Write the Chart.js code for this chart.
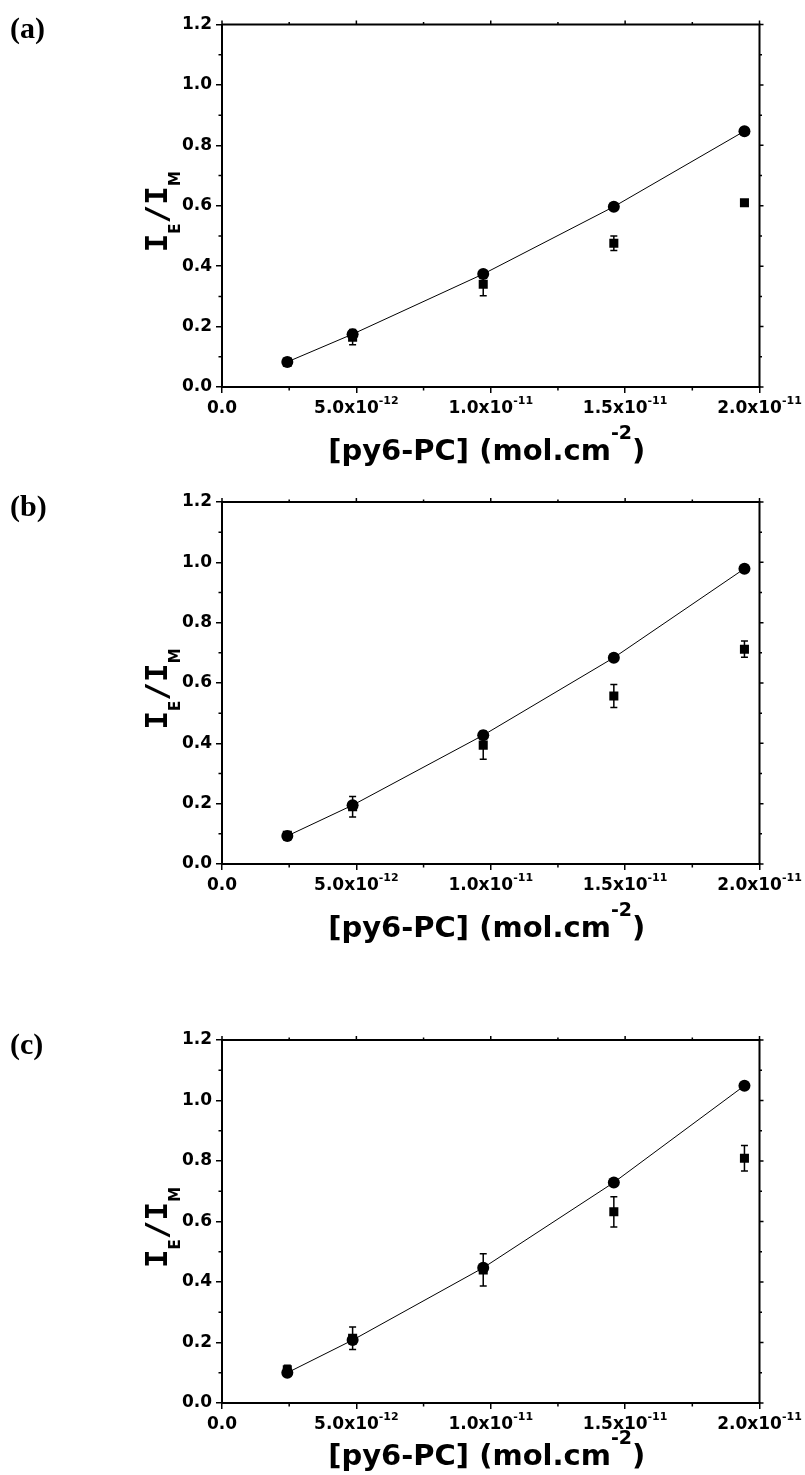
<!DOCTYPE html>
<html>
<head>
<meta charset="utf-8">
<script src="https://cdn.jsdelivr.net/npm/chart.js@4.4.0/dist/chart.umd.min.js"></script>
<style>
  html, body { margin: 0; padding: 0; background: #fff; }
  body { width: 805px; height: 1475px; position: relative; overflow: hidden; }
  .panel { position: absolute; left: 0; width: 805px; }
  .panel canvas { display: block; }
</style>
</head>
<body>
<div class="panel" style="top:0px"><canvas id="chartA" width="805" height="480"></canvas></div>
<div class="panel" style="top:480px"><canvas id="chartB" width="805" height="470"></canvas></div>
<div class="panel" style="top:1015px"><canvas id="chartC" width="805" height="460"></canvas></div>

<script>
// ===== DATA =====
const xValues = [2.43e-12, 4.86e-12, 9.72e-12, 1.458e-11, 1.944e-11];

const circlesA = [0.083, 0.175, 0.374, 0.597, 0.847];
const squaresA = [0.083, 0.165, 0.340, 0.476, 0.610];
const squareErrA = [0.010, 0.025, 0.038, 0.024, 0.010];

const circlesB = [0.093, 0.195, 0.427, 0.684, 0.979];
const squaresB = [0.095, 0.190, 0.394, 0.557, 0.712];
const squareErrB = [0.012, 0.034, 0.047, 0.038, 0.027];

const circlesC = [0.100, 0.208, 0.447, 0.729, 1.049];
const squaresC = [0.110, 0.214, 0.440, 0.632, 0.809];
const squareErrC = [0.015, 0.037, 0.053, 0.050, 0.042];

const xTicks = [0, 5e-12, 1e-11, 1.5e-11, 2e-11];
const xTickMant = ['0.0', '5.0x10', '1.0x10', '1.5x10', '2.0x10'];
const xTickExp = ['', '-12', '-11', '-11', '-11'];
const xMinor = [2.5e-12, 7.5e-12, 1.25e-11, 1.75e-11];
const yTicks = [0, 0.2, 0.4, 0.6, 0.8, 1.0, 1.2];
const yMinor = [0.1, 0.3, 0.5, 0.7, 0.9, 1.1];

const LABEL_FONT = 'bold 17px "DejaVu Sans"';
const SUP_FONT = 'bold 11px "DejaVu Sans"';

// ===== PLUGIN: error bars, frame, minor ticks, x labels, titles =====
const decorations = {
  id: 'decorations',
  beforeDatasetsDraw(chart) {
    // error bars for the square series
    const { ctx, scales: { x, y } } = chart;
    const ds = chart.data.datasets[1];
    ctx.save();
    ctx.strokeStyle = '#000';
    ctx.lineWidth = 1.5;
    ds.data.forEach((p, i) => {
      const err = ds.errors[i];
      const px = x.getPixelForValue(p.x);
      const top = y.getPixelForValue(p.y + err);
      const bot = y.getPixelForValue(p.y - err);
      ctx.beginPath();
      ctx.moveTo(px, top); ctx.lineTo(px, bot);
      ctx.moveTo(px - 3.5, top); ctx.lineTo(px + 3.5, top);
      ctx.moveTo(px - 3.5, bot); ctx.lineTo(px + 3.5, bot);
      ctx.stroke();
    });
    ctx.restore();
  },
  afterDraw(chart) {
    const { ctx, chartArea: a, scales: { x, y } } = chart;
    const panel = chart.options.plugins.decorations;
    ctx.save();
    ctx.strokeStyle = '#000';
    ctx.fillStyle = '#000';
    ctx.lineWidth = 2;
    // top and right frame
    ctx.beginPath();
    ctx.moveTo(a.left, a.top); ctx.lineTo(a.right, a.top); ctx.lineTo(a.right, a.bottom);
    ctx.stroke();

    // ticks on top / right, minor ticks everywhere
    ctx.lineWidth = 1.5;
    ctx.beginPath();
    xTicks.forEach(v => {
      const px = x.getPixelForValue(v);
      ctx.moveTo(px, a.top); ctx.lineTo(px, a.top - 4);
    });
    xMinor.forEach(v => {
      const px = x.getPixelForValue(v);
      ctx.moveTo(px, a.bottom); ctx.lineTo(px, a.bottom + 3.5);
      ctx.moveTo(px, a.top); ctx.lineTo(px, a.top - 2.5);
    });
    yTicks.forEach(v => {
      const py = y.getPixelForValue(v);
      ctx.moveTo(a.right, py); ctx.lineTo(a.right + 4, py);
    });
    yMinor.forEach(v => {
      const py = y.getPixelForValue(v);
      ctx.moveTo(a.left, py); ctx.lineTo(a.left - 3.5, py);
      ctx.moveTo(a.right, py); ctx.lineTo(a.right + 2.5, py);
    });
    ctx.stroke();

    // x tick labels with superscript exponents
    ctx.textBaseline = 'alphabetic';
    xTicks.forEach((v, i) => {
      const px = x.getPixelForValue(v);
      ctx.font = LABEL_FONT;
      const wm = ctx.measureText(xTickMant[i]).width;
      ctx.font = SUP_FONT;
      const ws = ctx.measureText(xTickExp[i]).width;
      const start = px - (wm + ws) / 2;
      ctx.font = LABEL_FONT;
      ctx.fillText(xTickMant[i], start, a.bottom + 26);
      ctx.font = SUP_FONT;
      ctx.fillText(xTickExp[i], start + wm, a.bottom + 17);
    });

    // x title
    const big = 'bold 29px "DejaVu Sans"';
    const sup = 'bold 19px "DejaVu Sans"';
    const parts = [['[py6-PC] (mol.cm', big, 0], ['-2', sup, -21], [')', big, 0]];
    let total = 0;
    parts.forEach(p => { ctx.font = p[1]; total += ctx.measureText(p[0]).width; });
    let tx = (a.left + a.right) / 2 - 4 - total / 2;
    const tb = a.bottom + panel.titleOffset;
    parts.forEach(p => {
      ctx.font = p[1];
      ctx.fillText(p[0], tx, tb + p[2]);
      tx += ctx.measureText(p[0]).width;
    });

    // y title  I_E / I_M
    ctx.save();
    ctx.translate(167, (a.top + a.bottom) / 2 + 6);
    ctx.rotate(-Math.PI / 2);
    const yBig = 'bold 31px "DejaVu Sans Mono"';
    const ySmall = 'bold 15px "DejaVu Sans"';
    const yParts = [['I', yBig, 0], ['E', ySmall, 13], ['/', yBig, 0], ['I', yBig, 0], ['M', ySmall, 13]];
    let yt = 0;
    yParts.forEach(p => { ctx.font = p[1]; yt += ctx.measureText(p[0]).width; });
    let yx = -yt / 2;
    yParts.forEach(p => {
      ctx.font = p[1];
      ctx.fillText(p[0], yx, p[2]);
      yx += ctx.measureText(p[0]).width;
    });
    ctx.restore();

    // panel letter
    ctx.font = 'bold 30px "Liberation Serif"';
    ctx.textBaseline = 'top';
    ctx.fillText(panel.letter, 10, a.top - 9);
    ctx.restore();
  }
};

function makePanel(id, circles, squares, errs, letter, pad, titleOffset) {
  return new Chart(document.getElementById(id), {
    type: 'scatter',
    data: {
      datasets: [
        {
          data: xValues.map((v, i) => ({ x: v, y: circles[i] })),
          showLine: true,
          borderColor: '#000',
          borderWidth: 1,
          pointStyle: 'circle',
          pointRadius: 6,
          pointBackgroundColor: '#000',
          pointBorderWidth: 0,
        },
        {
          data: xValues.map((v, i) => ({ x: v, y: squares[i] })),
          errors: errs,
          showLine: false,
          pointStyle: 'rect',
          pointRadius: 6.4,
          pointBackgroundColor: '#000',
          pointBorderWidth: 0,
        },
      ],
    },
    options: {
      responsive: false,
      animation: false,
      layout: { padding: pad },
      plugins: {
        legend: { display: false },
        tooltip: { enabled: false },
        decorations: { letter, titleOffset },
      },
      scales: {
        x: {
          type: 'linear',
          min: 0,
          max: 2e-11,
          afterBuildTicks: s => { s.ticks = xTicks.map(v => ({ value: v })); },
          afterFit: s => { s.height = 0; },
          ticks: { callback: () => '', autoSkip: false },
          grid: { drawOnChartArea: false, tickLength: 6, color: '#000', lineWidth: 1.5 },
          border: { color: '#000', width: 2 },
        },
        y: {
          min: 0,
          max: 1.2,
          afterFit: s => { s.width = 222; },
          ticks: {
            stepSize: 0.2,
            color: '#000',
            padding: 4,
            font: { family: 'DejaVu Sans', weight: 'bold', size: 17 },
            callback: v => v.toFixed(1),
          },
          grid: { drawOnChartArea: false, tickLength: 6, color: '#000', lineWidth: 1.5 },
          border: { color: '#000', width: 2 },
        },
      },
    },
    plugins: [decorations],
  });
}

// ===== BOOT =====
makePanel('chartA', circlesA, squaresA, squareErrA, '(a)', { left: 0, right: 45.5, top: 24.5, bottom: 93 }, 73);
makePanel('chartB', circlesB, squaresB, squareErrB, '(b)', { left: 0, right: 45.5, top: 22, bottom: 86 }, 73);
makePanel('chartC', circlesC, squaresC, squareErrC, '(c)', { left: 0, right: 45.5, top: 25, bottom: 72 }, 62);
</script>
</body>
</html>
